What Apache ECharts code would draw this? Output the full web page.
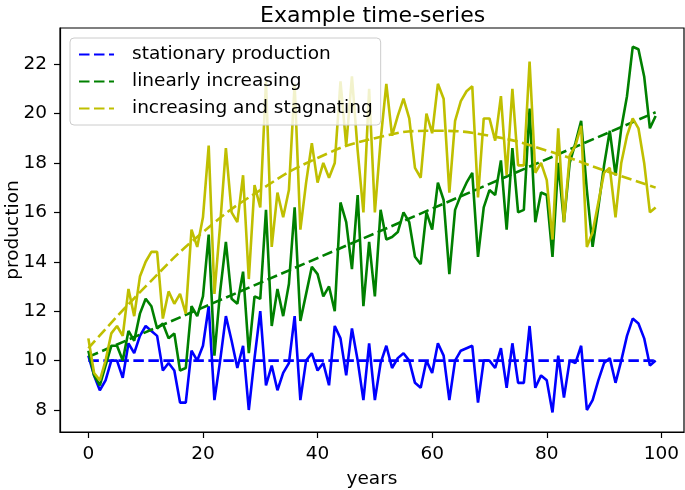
<!DOCTYPE html>
<html>
<head>
<meta charset="utf-8">
<script src="https://cdn.jsdelivr.net/npm/echarts@6/dist/echarts.min.js"></script>
<style>
  html, body { margin: 0; padding: 0; background: #fff; }
  #chart { width: 685px; height: 490px; }
</style>
</head>
<body>
<div id="chart"></div>
<script>
// noisy yearly production, years 0..99
const stationary = [
  10.2, 9.4, 8.8, 9.2, 10.0, 10.0, 9.3, 10.7, 10.3, 11.0,
  11.4, 11.2, 11.0, 9.6, 9.9, 9.6, 8.3, 8.3, 10.4, 10.0,
  10.6, 12.2, 8.4, 10.0, 11.8, 10.8, 9.7, 10.6, 8.0, 10.1,
  12.0, 9.0, 9.8, 8.8, 9.5, 9.9, 11.8, 8.4, 10.0, 10.3,
  9.6, 9.9, 9.0, 11.4, 10.9, 9.4, 11.3, 10.0, 8.4, 10.7,
  8.4, 9.9, 10.6, 9.7, 10.1, 10.3, 10.0, 9.1, 8.9, 10.0,
  9.5, 10.7, 10.2, 8.4, 10.0, 10.4, 10.5, 10.6, 8.3, 10.0,
  10.0, 9.7, 10.5, 8.9, 10.7, 9.1, 9.1, 11.4, 8.9, 9.4,
  9.2, 7.9, 10.2, 8.5, 10.0, 9.9, 10.6, 8.0, 8.4, 9.2,
  9.9, 10.1, 9.1, 10.0, 11.0, 11.7, 11.5, 10.9, 9.8, 10.0
];
const linear = [
  10.4, 9.4, 9.0, 9.8, 10.6, 10.6, 10.0, 11.2, 10.8, 11.9,
  12.5, 12.2, 11.3, 11.5, 10.9, 11.1, 9.6, 9.7, 12.2, 11.8,
  12.6, 15.1, 10.2, 12.8, 14.8, 12.5, 12.3, 13.6, 10.3, 12.6,
  12.5, 16.1, 11.4, 12.9, 11.8, 13.1, 16.2, 11.6, 12.7, 13.8,
  13.5, 12.6, 13.0, 12.0, 16.4, 15.6, 13.7, 16.7, 12.2, 14.8,
  12.6, 16.1, 14.9, 15.0, 15.2, 16.0, 15.6, 14.2, 13.9, 16.0,
  15.3, 17.2, 16.5, 13.5, 16.1, 16.7, 17.2, 17.6, 14.2, 16.2,
  16.9, 16.7, 18.1, 15.3, 18.6, 16.0, 16.1, 20.2, 15.6, 16.8,
  16.7, 14.2, 18.0, 15.6, 18.0, 18.8, 19.7, 16.9, 14.6, 16.2,
  17.9, 19.3, 17.5, 19.4, 20.7, 22.7, 22.6, 21.5, 19.4, 19.9
];
const stagnating = [
  10.9, 9.5, 9.2, 10.0, 11.1, 11.4, 11.0, 12.9, 11.8, 13.4,
  14.0, 14.4, 14.4, 11.7, 12.8, 12.3, 12.7, 11.9, 15.3, 14.6,
  15.8, 18.7, 12.7, 15.5, 18.6, 16.0, 15.6, 17.5, 13.3, 17.1,
  16.2, 21.3, 14.6, 16.8, 15.8, 16.9, 21.2, 15.3, 17.2, 18.8,
  17.2, 18.0, 17.4, 18.0, 21.3, 18.7, 21.5, 18.5, 16.0, 21.0,
  16.0, 18.9, 21.2, 19.1, 19.9, 20.6, 19.8, 17.8, 17.4, 20.0,
  19.2, 21.2, 20.6, 16.8, 19.7, 20.5, 20.9, 21.1, 16.6, 19.8,
  19.8, 18.9, 20.7, 17.5, 21.0, 17.9, 17.9, 22.1, 17.6, 18.0,
  17.3, 14.9, 19.4, 15.6, 18.3, 18.7, 19.5, 14.6, 15.2, 16.4,
  17.6, 17.8, 15.8, 18.0, 19.1, 19.8, 19.4, 18.0, 16.0, 16.2
];

// dashed model curves, read at a few years
const stationaryFitYears = [0, 99];
const stationaryFit = [10.0, 10.0];
const linearFitYears = [0, 99];
const linearFit = [10.15, 20.05];
const stagnatingFitYears = [0, 10, 20, 30, 40, 50, 60, 70, 80, 90, 99];
const stagnatingFit = [10.5, 13.0, 15.2, 16.9, 18.2, 19.0, 19.3, 19.1, 18.5, 17.7, 17.0];

const legendNames = ['stationary production', 'linearly increasing', 'increasing and stagnating'];
const xTicks = [0, 20, 40, 60, 80, 100];
const yTicks = [8, 10, 12, 14, 16, 18, 20, 22];

const BLUE = '#0000ff', GREEN = '#008000', YELLOW = '#bfbf00';
const FONT = 'DejaVu Sans';
const FS = 18.5;

const pairs = (arr) => arr.map((v, i) => [i, v]);
const zip = (xs, ys) => xs.map((x, i) => [x, ys[i]]);

const solid = (data, color) => ({
  type: 'line',
  data: pairs(data),
  symbol: 'none',
  silent: true,
  lineStyle: { color, width: 2.6 },
  itemStyle: { color },
});
const dashed = (name, xs, ys, color, smooth) => ({
  type: 'line',
  name,
  data: zip(xs, ys),
  symbol: 'none',
  smooth: smooth || false,
  silent: true,
  lineStyle: { color, width: 2.6, type: [10.5, 4.5] },
  itemStyle: { color },
});

const axisCommon = {
  splitLine: { show: false },
  axisLine: { show: true, onZero: false, lineStyle: { color: '#000', width: 1.2 } },
  nameTextStyle: { fontFamily: FONT, fontSize: FS, color: '#000' },
  nameMoveOverlap: false,
};

const chart = echarts.init(document.getElementById('chart'), null, { renderer: 'canvas' });
chart.setOption({
  animation: false,
  backgroundColor: '#fff',
  textStyle: { fontFamily: FONT },
  title: {
    text: 'Example time-series',
    left: 255,
    top: 0,
    textStyle: { fontFamily: FONT, fontSize: 22, fontWeight: 'normal', color: '#000' },
  },
  grid: {
    left: 60, right: 1, top: 28, bottom: 58,
    outerBoundsMode: 'none',
    containLabel: false,
    show: true, borderColor: '#000', borderWidth: 1.2, backgroundColor: 'transparent',
  },
  legend: {
    data: legendNames,
    orient: 'vertical',
    left: 70,
    top: 38,
    padding: [7, 8, 7, 8],
    itemWidth: 35,
    itemHeight: 19,
    itemGap: 8,
    itemStyle: { opacity: 0 },
    backgroundColor: 'rgba(255,255,255,0.8)',
    borderColor: '#cccccc',
    borderWidth: 1,
    borderRadius: 4,
    textStyle: { fontFamily: FONT, fontSize: FS, color: '#000', padding: [0, 0, 0, 13] },
  },
  xAxis: Object.assign({}, axisCommon, {
    type: 'value',
    min: -4.95,
    max: 103.95,
    name: 'years',
    nameLocation: 'middle',
    nameGap: 38,
    axisTick: { show: true, inside: false, length: 6, lineStyle: { color: '#000', width: 1.2 }, customValues: xTicks },
    axisLabel: { fontFamily: FONT, fontSize: FS, color: '#000', margin: 13, customValues: xTicks },
  }),
  yAxis: Object.assign({}, axisCommon, {
    type: 'value',
    min: 7.11,
    max: 23.46,
    name: 'production',
    nameLocation: 'middle',
    nameRotate: 90,
    nameGap: 37,
    axisTick: { show: true, inside: false, length: 6, lineStyle: { color: '#000', width: 1.2 }, customValues: yTicks },
    axisLabel: { fontFamily: FONT, fontSize: FS, color: '#000', margin: 13, customValues: yTicks },
  }),
  series: [
    solid(stationary, BLUE),
    dashed(legendNames[0], stationaryFitYears, stationaryFit, BLUE),
    solid(linear, GREEN),
    dashed(legendNames[1], linearFitYears, linearFit, GREEN),
    solid(stagnating, YELLOW),
    dashed(legendNames[2], stagnatingFitYears, stagnatingFit, YELLOW, true),
  ],
});
</script>
</body>
</html>
